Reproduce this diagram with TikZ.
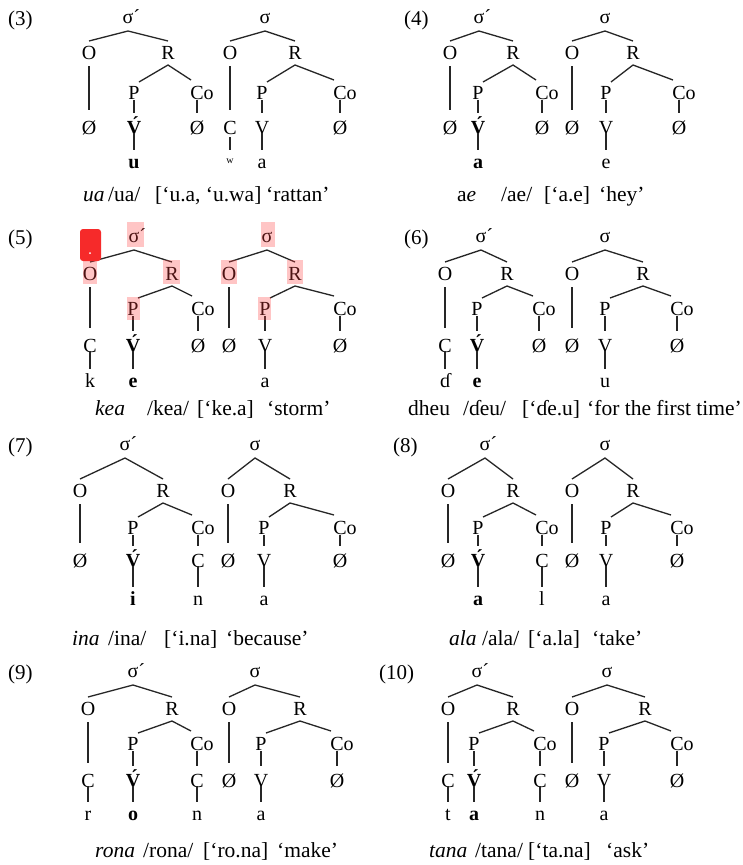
\documentclass[tikz,border=0pt]{standalone}
\usepackage{fontspec}
\setmainfont{Liberation Serif}
\tikzset{
  tn/.style={anchor=base, inner sep=0pt, font=\fontsize{20}{24}\selectfont},
  sm/.style={anchor=base, inner sep=0pt, font=\fontsize{10}{12}\selectfont},
  captext/.style={anchor=base west, inner sep=0pt, font=\fontsize{21.5}{26}\selectfont},
  lbl/.style={anchor=base west, inner sep=0pt, font=\fontsize{21}{25}\selectfont},
  hl/.style={fill=red!75, fill opacity=0.3},
  redbox/.style={fill={rgb,255:red,246;green,42;blue,42}, rounded corners=3pt},
  tl/.style={line width=1.3pt, draw=black!85}
}
% one syllable: prefix, sigma text, sigma x, O x, R x, P x, Co x
\newcommand\syl[7]{%
  \node[tn] (#1s) at (#3,\ys+5) {#2};
  \node[tn] (#1o) at (#4,\yo+7) {O};
  \node[tn] (#1r) at (#5,\yo+7) {R};
  \node[tn] (#1p) at (#6,\yp+7) {P};
  \node[tn] (#1c) at (#7,\yp+7) {Co};
  \draw[tl] ([shift={(0,-18)}]#1o.base) -- ([shift={(0,8)}]#1s.base) -- ([shift={(0,-18)}]#1r.base);
  \draw[tl] ([shift={(5,-17)}]#1p.base) -- ([shift={(0,6)}]#1r.base) -- ([shift={(-11,-19)}]#1c.base);
}
\newcommand\bnode[3]{\node[tn] (#1) at (#2,\yb+7) {#3};}
\newcommand\lfnode[3]{\node[tn] (#1) at (#2,\yl+5) {#3};}
\newcommand\linkO[2]{\draw[tl] ([shift={(0,7)}]#1.base) -- ([shift={(0,-24)}]#2.base);}
\newcommand\linkP[2]{\draw[tl] ([shift={(0,1)}]#1.base) -- ([shift={(0,-21)}]#2.base);}
\newcommand\linkC[2]{\draw[tl] ([shift={(-5,1)}]#1.base) -- ([shift={(0,-21)}]#2.base);}
\newcommand\linkL[2]{\draw[tl] ([shift={(0,-1)}]#1.base) -- ([shift={(0,-18)}]#2.base);}
\newcommand\Vac{\textbf{\'V}}
\newcommand\sigac{σ\rlap{´}}
\begin{document}
\begin{tikzpicture}[x=1pt,y=-1pt]
\useasboundingbox (0,0) rectangle (742,865);
\fill[white] (0,0) rectangle (742,865);

% ================= Row 1 =================
\def\ys{18}\def\yo{52}\def\yp{92}\def\yb{127}\def\yl{163}\def\ycap{201}
% (3)
\node[lbl] (n3) at (8,\ys+7) {(3)};
\syl{aA}{\sigac}{128}{89}{168}{134}{202}
\syl{aB}{σ}{265}{230}{295}{262}{345}
\bnode{aA1}{89}{Ø}\bnode{aAv}{134}{\Vac}\bnode{aA2}{197}{Ø}
\bnode{aB1}{230}{C}\bnode{aBv}{262}{V}\bnode{aB2}{340}{Ø}
\lfnode{aAl}{134}{\textbf{u}}\lfnode{aBl}{262}{a}
\node[sm] (aBw) at (230,\yl) {w};
\linkO{aAo}{aA1}\linkP{aAp}{aAv}\linkC{aAc}{aA2}\linkL{aAv}{aAl}
\linkO{aBo}{aB1}\linkP{aBp}{aBv}\linkC{aBc}{aB2}\linkL{aBv}{aBl}
\draw[tl] ([shift={(0,3)}]aB1.base) -- ([shift={(0,-13)}]aBw.base);
\foreach \x/\t [count=\i] in {83/{\textit{ua}},108/{/ua/},155/{[‘u.a, ‘u.wa]},266/{‘rattan’}}
  \node[captext] (cap3-\i) at (\x,\ycap) {\t};
% (4)
\node[lbl] (n4) at (404,\ys+7) {(4)};
\syl{bA}{\sigac}{479}{450}{513}{478}{547}
\syl{bB}{σ}{605}{572}{633}{606}{684}
\bnode{bA1}{450}{Ø}\bnode{bAv}{478}{\Vac}\bnode{bA2}{542}{Ø}
\bnode{bB1}{572}{Ø}\bnode{bBv}{606}{V}\bnode{bB2}{679}{Ø}
\lfnode{bAl}{478}{\textbf{a}}\lfnode{bBl}{606}{e}
\linkO{bAo}{bA1}\linkP{bAp}{bAv}\linkC{bAc}{bA2}\linkL{bAv}{bAl}
\linkO{bBo}{bB1}\linkP{bBp}{bBv}\linkC{bBc}{bB2}\linkL{bBv}{bBl}
\foreach \x/\t [count=\i] in {457/{a\textit{e}},501/{/ae/},544/{[‘a.e]},599/{‘hey’}}
  \node[captext] (cap4-\i) at (\x,\ycap) {\t};

% ================= Row 2 =================
\def\ys{237}\def\yo{273}\def\yp{308}\def\yb{345}\def\yl{382}\def\ycap{415}
% (5)
\node[lbl] (n5) at (8,\ys+7) {(5)};
\syl{cA}{\sigac}{134}{90}{172}{133}{203}
\syl{cB}{σ}{267}{229}{295}{265}{345}
\bnode{cA1}{90}{C}\bnode{cAv}{133}{\Vac}\bnode{cA2}{198}{Ø}
\bnode{cB1}{229}{Ø}\bnode{cBv}{265}{V}\bnode{cB2}{340}{Ø}
\lfnode{cAk}{90}{k}\lfnode{cAl}{133}{\textbf{e}}\lfnode{cBl}{265}{a}
\linkO{cAo}{cA1}\linkP{cAp}{cAv}\linkC{cAc}{cA2}\linkL{cAv}{cAl}\linkL{cA1}{cAk}
\linkO{cBo}{cB1}\linkP{cBp}{cBv}\linkC{cBc}{cB2}\linkL{cBv}{cBl}
\foreach \x/\t [count=\i] in {95/{\textit{kea}},147/{/kea/},197/{[‘ke.a]},267/{‘storm’}}
  \node[captext] (cap5-\i) at (\x,\ycap) {\t};
% highlights
\fill[hl] (127,222) rectangle (144,247);
\fill[hl] (83,260) rectangle (97,284);
\fill[hl] (163,260) rectangle (180,284);
\fill[hl] (127,297) rectangle (140,320);
\fill[hl] (261,222) rectangle (275,247);
\fill[hl] (221,260) rectangle (237,284);
\fill[hl] (287,260) rectangle (303,284);
\fill[hl] (258,297) rectangle (271,320);
\fill[redbox] (80,229) rectangle (101,261);
\fill[white] (90,253) circle (1);
% (6)
\node[lbl] (n6) at (404,\ys+7) {(6)};
\syl{dA}{\sigac}{481}{445}{507}{477}{544}
\syl{dB}{σ}{605}{572}{643}{605}{682}
\bnode{dA1}{445}{C}\bnode{dAv}{477}{\Vac}\bnode{dA2}{539}{Ø}
\bnode{dB1}{572}{Ø}\bnode{dBv}{605}{V}\bnode{dB2}{677}{Ø}
\lfnode{dAk}{445}{ɗ}\lfnode{dAl}{477}{\textbf{e}}\lfnode{dBl}{605}{u}
\linkO{dAo}{dA1}\linkP{dAp}{dAv}\linkC{dAc}{dA2}\linkL{dAv}{dAl}\linkL{dA1}{dAk}
\linkO{dBo}{dB1}\linkP{dBp}{dBv}\linkC{dBc}{dB2}\linkL{dBv}{dBl}
\foreach \x/\t [count=\i] in {408/{dheu},463/{/ɗeu/},522/{[‘ɗe.u]},587/{‘for the first time’}}
  \node[captext] (cap6-\i) at (\x,\ycap) {\t};

% ================= Row 3 =================
\def\ys{445}\def\yo{490}\def\yp{527}\def\yb{560}\def\yl{600}\def\ycap{645}
% (7)
\node[lbl] (n7) at (8,\ys+7) {(7)};
\syl{eA}{\sigac}{125}{80}{163}{133}{203}
\syl{eB}{σ}{255}{228}{290}{264}{345}
\bnode{eA1}{80}{Ø}\bnode{eAv}{133}{\Vac}\bnode{eA2}{198}{C}
\bnode{eB1}{228}{Ø}\bnode{eBv}{264}{V}\bnode{eB2}{340}{Ø}
\lfnode{eAl}{133}{\textbf{i}}\lfnode{eAn}{198}{n}\lfnode{eBl}{264}{a}
\linkO{eAo}{eA1}\linkP{eAp}{eAv}\linkC{eAc}{eA2}\linkL{eAv}{eAl}\linkL{eA2}{eAn}
\linkO{eBo}{eB1}\linkP{eBp}{eBv}\linkC{eBc}{eB2}\linkL{eBv}{eBl}
\foreach \x/\t [count=\i] in {72/{\textit{ina}},108/{/ina/},164/{[‘i.na]},226/{‘because’}}
  \node[captext] (cap7-\i) at (\x,\ycap) {\t};
% (8)
\node[lbl] (n8) at (393,\ys+7) {(8)};
\syl{fA}{\sigac}{485}{448}{513}{478}{547}
\syl{fB}{σ}{605}{572}{633}{606}{682}
\bnode{fA1}{448}{Ø}\bnode{fAv}{478}{\Vac}\bnode{fA2}{542}{C}
\bnode{fB1}{572}{Ø}\bnode{fBv}{606}{V}\bnode{fB2}{677}{Ø}
\lfnode{fAl}{478}{\textbf{a}}\lfnode{fAn}{542}{l}\lfnode{fBl}{606}{a}
\linkO{fAo}{fA1}\linkP{fAp}{fAv}\linkC{fAc}{fA2}\linkL{fAv}{fAl}\linkL{fA2}{fAn}
\linkO{fBo}{fB1}\linkP{fBp}{fBv}\linkC{fBc}{fB2}\linkL{fBv}{fBl}
\foreach \x/\t [count=\i] in {449/{\textit{ala}},482/{/ala/},528/{[‘a.la]},592/{‘take’}}
  \node[captext] (cap8-\i) at (\x,\ycap) {\t};

% ================= Row 4 =================
\def\ys{672}\def\yo{708}\def\yp{743}\def\yb{780}\def\yl{815}\def\ycap{857}
% (9)
\node[lbl] (n9) at (8,\ys+7) {(9)};
\syl{gA}{\sigac}{133}{88}{172}{133}{202}
\syl{gB}{σ}{255}{229}{300}{261}{342}
\bnode{gA1}{88}{C}\bnode{gAv}{133}{\Vac}\bnode{gA2}{197}{C}
\bnode{gB1}{229}{Ø}\bnode{gBv}{261}{V}\bnode{gB2}{337}{Ø}
\lfnode{gAk}{88}{r}\lfnode{gAl}{133}{\textbf{o}}\lfnode{gAn}{197}{n}\lfnode{gBl}{261}{a}
\linkO{gAo}{gA1}\linkP{gAp}{gAv}\linkC{gAc}{gA2}\linkL{gAv}{gAl}\linkL{gA1}{gAk}\linkL{gA2}{gAn}
\linkO{gBo}{gB1}\linkP{gBp}{gBv}\linkC{gBc}{gB2}\linkL{gBv}{gBl}
\foreach \x/\t [count=\i] in {95/{\textit{rona}},143/{/rona/},203/{[‘ro.na]},277/{‘make’}}
  \node[captext] (cap9-\i) at (\x,\ycap) {\t};
% (10)
\node[lbl] (n10) at (379,\ys+7) {(10)};
\syl{hA}{\sigac}{477}{448}{513}{474}{545}
\syl{hB}{σ}{607}{572}{645}{604}{682}
\bnode{hA1}{448}{C}\bnode{hAv}{474}{\Vac}\bnode{hA2}{540}{C}
\bnode{hB1}{572}{Ø}\bnode{hBv}{604}{V}\bnode{hB2}{677}{Ø}
\lfnode{hAk}{448}{t}\lfnode{hAl}{474}{\textbf{a}}\lfnode{hAn}{540}{n}\lfnode{hBl}{604}{a}
\linkO{hAo}{hA1}\linkP{hAp}{hAv}\linkC{hAc}{hA2}\linkL{hAv}{hAl}\linkL{hA1}{hAk}\linkL{hA2}{hAn}
\linkO{hBo}{hB1}\linkP{hBp}{hBv}\linkC{hBc}{hB2}\linkL{hBv}{hBl}
\foreach \x/\t [count=\i] in {429/{\textit{tana}},475/{/tana/},528/{[‘ta.na]},606/{‘ask’}}
  \node[captext] (cap10-\i) at (\x,\ycap) {\t};
\end{tikzpicture}
\end{document}
